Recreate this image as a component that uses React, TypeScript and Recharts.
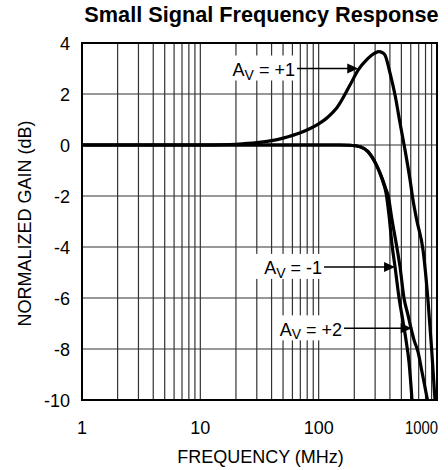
import React from 'react';
import { LineChart, Line, XAxis, YAxis, CartesianGrid, ReferenceArea, ReferenceLine, Label } from 'recharts';

const FONT = '"Liberation Sans", Arial, Helvetica, sans-serif';

// Frequencies (MHz) and normalized gains (dB)
const freqAvP1 = [1, 2, 5, 10, 15, 20, 30, 40, 50, 70, 96, 120, 142, 184, 216, 255, 280, 300, 324, 345, 364, 401, 442, 487, 537, 592, 627, 674, 762, 839, 902, 962];
const gainAvP1 = [0, 0, 0, 0, 0.01, 0.03, 0.09, 0.17, 0.27, 0.48, 0.78, 1.1, 1.45, 2.35, 2.95, 3.35, 3.52, 3.61, 3.66, 3.62, 3.52, 2.82, 1.96, 0.86, -0.2, -1.37, -2.16, -2.94, -4.12, -6.08, -8.04, -10];

const freqAvM1 = [1, 10, 100, 150, 184, 224, 260, 281, 305, 330, 350, 371, 393, 417, 442, 478, 517, 547, 580, 615];
const gainAvM1 = [0, 0, 0, 0, -0.01, -0.07, -0.25, -0.46, -0.75, -1.11, -1.45, -1.88, -2.75, -3.92, -4.78, -6.0, -6.94, -7.65, -8.51, -10];

const freqAvP2 = [1, 10, 100, 150, 184, 224, 260, 281, 305, 330, 350, 371, 385, 417, 459, 487, 526, 569, 603, 640, 692, 747, 831];
const gainAvP2 = [0, 0, 0, 0, -0.01, -0.07, -0.25, -0.46, -0.75, -1.1, -1.4, -1.75, -1.96, -2.94, -4.04, -4.78, -6.0, -6.67, -7.18, -7.65, -8.12, -8.9, -10];

const xGridTicks = [1, 2, 3, 4, 5, 6, 7, 8, 9, 10, 20, 30, 40, 50, 60, 70, 80, 90, 100, 200, 300, 400, 500, 600, 700, 800, 900, 1000];
const xTickLabels = [1, 10, 100, 1000];
const yTicks = [-10, -8, -6, -4, -2, 0, 2, 4];

// Annotations: label, arrow tail frequency, arrow tip frequency, gain level
const annLabels = ['+1', '-1', '+2'];
const annTailF = [65.6, 111, 164];
const annTipF = [216, 442, 611];
const annGain = [3.0, -4.78, -7.19];

const toPoints = (fs: number[], gs: number[]) => fs.map((f, i) => ({ f, g: gs[i] }));
const dataAvP1 = toPoints(freqAvP1, gainAvP1);
const dataAvM1 = toPoints(freqAvM1, gainAvM1);
const dataAvP2 = toPoints(freqAvP2, gainAvP2);

const XTick = (props: any) => {
  const { x, y, payload } = props;
  const v = payload.value;
  if (!xTickLabels.includes(v)) return <g />;
  const last = v === xTickLabels[xTickLabels.length - 1];
  const extra: any = last ? { textLength: 33, lengthAdjust: 'spacingAndGlyphs' } : {};
  return (
    <text x={last ? x + 1 : x} y={y + 34} textAnchor={last ? 'end' : 'middle'} fontSize={18} fill="#000" fontFamily={FONT} {...extra}>
      {v}
    </text>
  );
};

const YTick = (props: any) => {
  const { x, y, payload } = props;
  return (
    <text x={x - 12} y={y + 6.5} textAnchor="end" fontSize={18} fill="#000" fontFamily={FONT}>
      {payload.value}
    </text>
  );
};

const YLabel = (props: any) => {
  const vb = props.viewBox || { x: 22, y: 43, width: 60, height: 357 };
  const cx = vb.x + 3;
  const cy = vb.y + vb.height / 2 + 2;
  return (
    <text x={cx} y={cy} transform={`rotate(-90 ${cx} ${cy})`} textAnchor="middle" dominantBaseline="central" fontSize={18} fill="#000" fontFamily={FONT}>
      NORMALIZED GAIN (dB)
    </text>
  );
};

const XLabel = (props: any) => {
  const vb = props.viewBox || { x: 82, y: 400, width: 355, height: 60 };
  const cx = vb.x + vb.width / 2 + 1;
  return (
    <text x={cx} y={vb.y + 63} textAnchor="middle" fontSize={18} fill="#000" fontFamily={FONT}>
      FREQUENCY (MHz)
    </text>
  );
};

const makeArrow = (label: string) => (p: any) => {
  const { x1, y1, x2, y2 } = p;
  const tx = x1 - 2;
  return (
    <g>
      <rect x={tx - 68} y={y1 - 13} width={70} height={25} fill="#fff" />
      <text x={tx} y={y1 + 7.5} textAnchor="end" fontSize={18} fontFamily={FONT} fill="#000">
        A<tspan fontSize={14} dy={3.5}>V</tspan>
        <tspan dy={-3.5}>{' = ' + label}</tspan>
      </text>
      <line x1={x1} y1={y1} x2={x2 - 9} y2={y2} stroke="#000" strokeWidth={1.5} />
      <polygon points={`${x2},${y2} ${x2 - 11},${y2 - 5} ${x2 - 11},${y2 + 5}`} fill="#000" />
    </g>
  );
};

export default function App() {
  return (
    <div style={{ position: 'absolute', left: 0, top: 0, width: 448, height: 470, background: '#fff' }}>
      <div
        style={{
          position: 'absolute',
          left: 84,
          top: 4,
          width: 355,
          textAlign: 'center',
          fontFamily: FONT,
          fontWeight: 'bold',
          fontSize: 21.7,
          lineHeight: '21px',
          whiteSpace: 'nowrap',
          color: '#000',
        }}
      >
        Small Signal Frequency Response
      </div>
      <LineChart width={448} height={470} margin={{ top: 43, right: 11, bottom: 10, left: 22 }}>
        <CartesianGrid stroke="#333" strokeWidth={1.2} />
        <XAxis
          dataKey="f"
          type="number"
          scale="log"
          domain={[1, 1000]}
          ticks={xGridTicks}
          allowDataOverflow
          interval={0}
          height={60}
          tickSize={0}
          tickMargin={0}
          tickLine={false}
          axisLine={false}
          tick={<XTick />}
        >
          <Label content={<XLabel />} />
        </XAxis>
        <YAxis
          type="number"
          domain={[-10, 4]}
          ticks={yTicks}
          allowDataOverflow
          interval={0}
          width={60}
          tickSize={0}
          tickMargin={0}
          tickLine={false}
          axisLine={false}
          tick={<YTick />}
        >
          <Label content={<YLabel />} />
        </YAxis>
        <ReferenceArea x1={1} x2={1000} y1={-10} y2={4} fill="none" stroke="#000" strokeWidth={2} fillOpacity={0} />
        <Line data={dataAvP1} dataKey="g" type="monotone" stroke="#000" strokeWidth={3.2} dot={false} isAnimationActive={false} />
        <Line data={dataAvM1} dataKey="g" type="monotone" stroke="#000" strokeWidth={3.2} dot={false} isAnimationActive={false} />
        <Line data={dataAvP2} dataKey="g" type="monotone" stroke="#000" strokeWidth={3.2} dot={false} isAnimationActive={false} />
        {annLabels.map((lab, i) => (
          <ReferenceLine
            key={lab}
            segment={[
              { x: annTailF[i], y: annGain[i] },
              { x: annTipF[i], y: annGain[i] },
            ]}
            shape={makeArrow(lab)}
          />
        ))}
      </LineChart>
    </div>
  );
}
